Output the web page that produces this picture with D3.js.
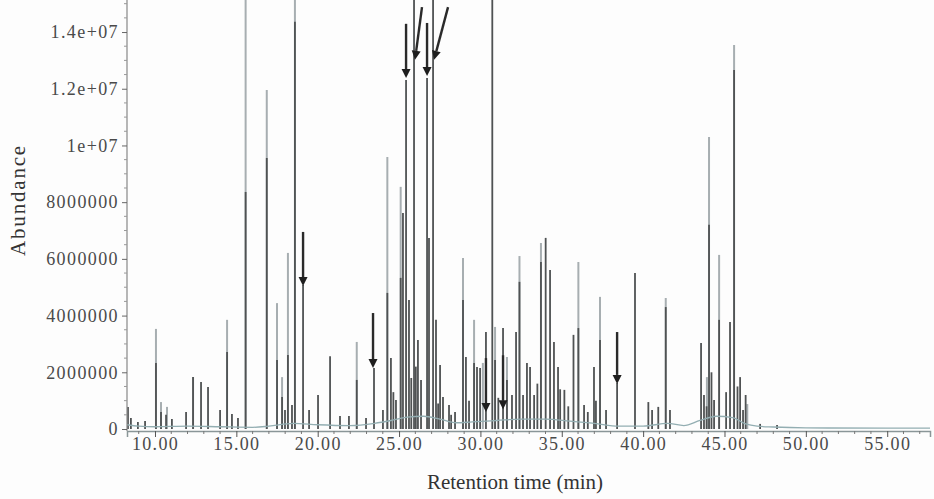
<!DOCTYPE html>
<html>
<head>
<meta charset="utf-8">
<script src="https://cdn.jsdelivr.net/npm/d3@7"></script>
<style>
  body { margin: 0; background: #fdfdfd; }
  svg text { font-family: "Liberation Serif", "Times New Roman", serif; }
</style>
</head>
<body>
<div id="chart"></div>
<script>
// retention time ticks (min) and abundance ticks (millions)
const xTicks = [10, 15, 20, 25, 30, 35, 40, 45, 50, 55];
const xTickLabels = ["10.00", "15.00", "20.00", "25.00", "30.00", "35.00", "40.00", "45.00", "50.00", "55.00"];
const yTicks = [0, 2, 4, 6, 8, 10, 12, 14];
const yTickLabels = ["0", "2000000", "4000000", "6000000", "8000000", "1e+07", "1.2e+07", "1.4e+07"];

// [retention time, abundance in millions] - dark trace
const darkPeaks = [
  [8.34, 0.78], [8.52, 0.39], [8.95, 0.25], [9.39, 0.28], [10.06, 2.33], [10.37, 0.6],
  [10.68, 0.5], [11.04, 0.35], [11.91, 0.6], [12.34, 1.83], [12.83, 1.66], [13.26, 1.48],
  [14.0, 0.67], [14.43, 2.72], [14.73, 0.53], [15.1, 0.39], [15.57, 8.36], [16.87, 9.56],
  [17.5, 2.43], [17.81, 1.13], [17.99, 0.67], [18.17, 2.61], [18.42, 0.85], [18.6, 14.36],
  [19.1, 5.08], [19.47, 0.67], [20.02, 1.2], [20.76, 2.57], [21.37, 0.46], [21.92, 0.46],
  [22.4, 1.73], [22.97, 0.39], [23.46, 2.15], [24.01, 0.67], [24.28, 4.8], [24.5, 2.5],
  [24.65, 1.3], [24.81, 1.02], [25.1, 5.33], [25.24, 7.62], [25.43, 12.31], [25.61, 4.55],
  [25.75, 1.8], [25.92, 16], [26.03, 2.2], [26.16, 3.14], [26.35, 1.73], [26.72, 12.38],
  [26.84, 6.74], [27.09, 16], [27.27, 3.85], [27.4, 0.9], [27.52, 2.26], [27.7, 1.13],
  [28.07, 0.85], [28.2, 0.5], [28.44, 0.6], [28.93, 4.55], [29.11, 2.54], [29.3, 1.0],
  [29.61, 2.33], [29.79, 2.19], [29.98, 2.15], [30.34, 3.42], [30.73, 16], [30.9, 2.43],
  [31.1, 1.1], [31.39, 3.56], [31.63, 1.73], [31.94, 1.2], [32.19, 3.42], [32.4, 5.19],
  [32.62, 1.2], [32.86, 2.33], [33.05, 2.19], [33.3, 1.2], [33.5, 1.6], [33.72, 5.89],
  [34.01, 6.74], [34.28, 5.61], [34.52, 3.07], [34.77, 2.19], [34.9, 1.4], [35.16, 1.38],
  [35.4, 0.8], [35.72, 3.32], [36.02, 3.56], [36.37, 0.85], [36.6, 0.6], [36.98, 2.19],
  [37.1, 1.0], [37.35, 3.14], [37.72, 0.67], [38.4, 1.62], [39.5, 5.5], [40.32, 0.95],
  [40.55, 0.67], [40.93, 0.78], [41.39, 4.3], [41.65, 0.67], [43.56, 3.03], [43.74, 1.2],
  [43.9, 0.8], [44.05, 7.2], [44.2, 2.0], [44.36, 1.02], [44.67, 3.85], [45.1, 1.3],
  [45.34, 3.77], [45.59, 12.66], [45.8, 1.5], [45.96, 1.83], [46.14, 0.67], [46.3, 1.2],
  [47.19, 0.18], [48.23, 0.14]
];

// [retention time, abundance in millions] - light trace
const lightPeaks = [
  [10.06, 3.53], [10.37, 0.95], [10.74, 0.78], [12.34, 1.83], [14.43, 3.85], [15.57, 16],
  [16.87, 11.96], [17.5, 4.44], [17.81, 1.83], [18.17, 6.21], [18.6, 16], [22.4, 3.07],
  [24.28, 9.59], [25.1, 8.54], [28.93, 6.03], [29.61, 3.85], [30.15, 2.33], [30.9, 3.6],
  [31.63, 2.54], [32.4, 6.1], [33.72, 6.56], [36.02, 5.89], [37.35, 4.66], [41.39, 4.62],
  [43.92, 1.83], [44.05, 10.3], [44.67, 6.14], [45.59, 13.54], [46.4, 0.88]
];

// baseline drift [retention time, abundance in millions]
const baseline = [
  [8.28, 0.15], [9, 0.1], [10, 0.08], [12, 0.1], [14, 0.08], [16, 0.06], [17, 0.1],
  [18.5, 0.2], [20, 0.15], [22, 0.12], [23.5, 0.2], [24.5, 0.3], [25.5, 0.42], [26.5, 0.45],
  [27.5, 0.35], [28.5, 0.22], [29.5, 0.25], [31, 0.3], [32.5, 0.35], [34, 0.35], [35.5, 0.28],
  [37, 0.2], [38.5, 0.1], [40, 0.1], [41.5, 0.2], [42.5, 0.12], [43.5, 0.3], [44.5, 0.45],
  [45.5, 0.4], [46.3, 0.18], [47, 0.1], [48, 0.07], [50, 0.04], [55, 0.03], [57.63, 0.03]
];

// marker arrows [tail rt, tail value, tip rt, tip value]
const arrows = [
  [19.1, 6.95, 19.1, 5.04], [23.4, 4.09, 23.4, 2.15], [25.43, 14.29, 25.43, 12.38],
  [26.72, 14.32, 26.72, 12.45], [30.34, 2.5, 30.34, 0.6], [31.39, 2.6, 31.39, 0.7],
  [38.4, 3.42, 38.4, 1.59], [26.41, 14.88, 25.98, 13.02], [28.01, 14.88, 27.15, 13.02]
];

const W = 934, H = 499;
const margin = { top: 0, right: 4, bottom: 70, left: 127 };

const svg = d3.select("#chart").append("svg")
  .attr("width", W).attr("height", H);

const x = d3.scaleLinear().domain([8.28, 57.63]).range([margin.left, W - margin.right]);
const y = d3.scaleLinear().domain([0, 15.13]).range([H - margin.bottom, margin.top]);

svg.append("clipPath").attr("id", "plot-clip")
  .append("rect")
  .attr("x", margin.left).attr("y", 0)
  .attr("width", W - margin.left - margin.right)
  .attr("height", H - margin.bottom + 1);

const plot = svg.append("g").attr("clip-path", "url(#plot-clip)");

// light trace first, dark on top
plot.selectAll("line.light").data(lightPeaks).join("line")
  .attr("class", "light")
  .attr("x1", d => x(d[0])).attr("x2", d => x(d[0]))
  .attr("y1", y(0)).attr("y2", d => y(d[1]))
  .attr("stroke", "#a7aeb1").attr("stroke-width", 2);

plot.selectAll("line.dark").data(darkPeaks).join("line")
  .attr("class", "dark")
  .attr("x1", d => x(d[0])).attr("x2", d => x(d[0]))
  .attr("y1", y(0)).attr("y2", d => y(d[1]))
  .attr("stroke", "#4f5253").attr("stroke-width", 1.8);

plot.append("path")
  .datum(baseline)
  .attr("fill", "none")
  .attr("stroke", "#93aeb2")
  .attr("stroke-width", 1.3)
  .attr("d", d3.line().x(d => x(d[0])).y(d => y(d[1])).curve(d3.curveMonotoneX));

// arrows
const arrowG = svg.append("g");
arrows.forEach(a => {
  const x1 = x(a[0]), y1 = y(a[1]), x2 = x(a[2]), y2 = y(a[3]);
  const ang = Math.atan2(y2 - y1, x2 - x1);
  const len = 9, half = 4.5;
  const bx = x2 - len * Math.cos(ang), by = y2 - len * Math.sin(ang);
  arrowG.append("line")
    .attr("x1", x1).attr("y1", y1).attr("x2", bx).attr("y2", by)
    .attr("stroke", "#2a2a2a").attr("stroke-width", 2.4);
  arrowG.append("path")
    .attr("d", `M${x2},${y2}L${bx - half * Math.sin(ang)},${by + half * Math.cos(ang)}L${bx + half * Math.sin(ang)},${by - half * Math.cos(ang)}Z`)
    .attr("fill", "#1e1e1e");
});

// x axis
const axisY = H - margin.bottom + 2;
const xAxis = d3.axisBottom(x)
  .tickValues(xTicks)
  .tickSize(6)
  .tickFormat((d, i) => xTickLabels[i]);
const gx = svg.append("g").attr("transform", `translate(0,${axisY})`).call(xAxis);
gx.select(".domain").attr("stroke", "#8a9698").attr("stroke-width", 1.5);
gx.selectAll(".tick line").attr("stroke", "#555");
gx.selectAll(".tick text")
  .attr("font-size", 18).attr("fill", "#4a4a4a")
  .attr("letter-spacing", 1.3).attr("y", 2).attr("dy", "0.95em");

const xMinor = d3.range(9, 58, 1).filter(v => v % 5 !== 0);
svg.append("g").selectAll("line").data(xMinor).join("line")
  .attr("x1", d => x(d)).attr("x2", d => x(d))
  .attr("y1", axisY).attr("y2", axisY + 3)
  .attr("stroke", "#777");

// y axis
const yAxis = d3.axisLeft(y)
  .tickValues(yTicks)
  .tickSize(5)
  .tickFormat((d, i) => yTickLabels[i]);
const gy = svg.append("g").attr("transform", `translate(${margin.left},0)`).call(yAxis);
gy.select(".domain").attr("d", `M0,0V${axisY}`).attr("stroke", "#888").attr("stroke-width", 1.2);
gy.selectAll(".tick line").attr("stroke", "#666");
gy.selectAll(".tick text")
  .attr("font-size", 18).attr("fill", "#4a4a4a")
  .attr("letter-spacing", 1.4).attr("x", -8);

const yMinor = d3.range(0.5, 15.1, 0.5).filter(v => v % 2 !== 0);
svg.append("g").selectAll("line").data(yMinor).join("line")
  .attr("x1", margin.left - 3).attr("x2", margin.left)
  .attr("y1", d => y(d)).attr("y2", d => y(d))
  .attr("stroke", "#999");

// axis titles
svg.append("text")
  .attr("x", 515).attr("y", 489)
  .attr("text-anchor", "middle")
  .attr("font-size", 21).attr("fill", "#333")
  .text("Retention time (min)");

svg.append("text")
  .attr("transform", "translate(25,200) rotate(-90)")
  .attr("text-anchor", "middle")
  .attr("font-size", 21).attr("letter-spacing", 1.8).attr("fill", "#333")
  .text("Abundance");
</script>
</body>
</html>
